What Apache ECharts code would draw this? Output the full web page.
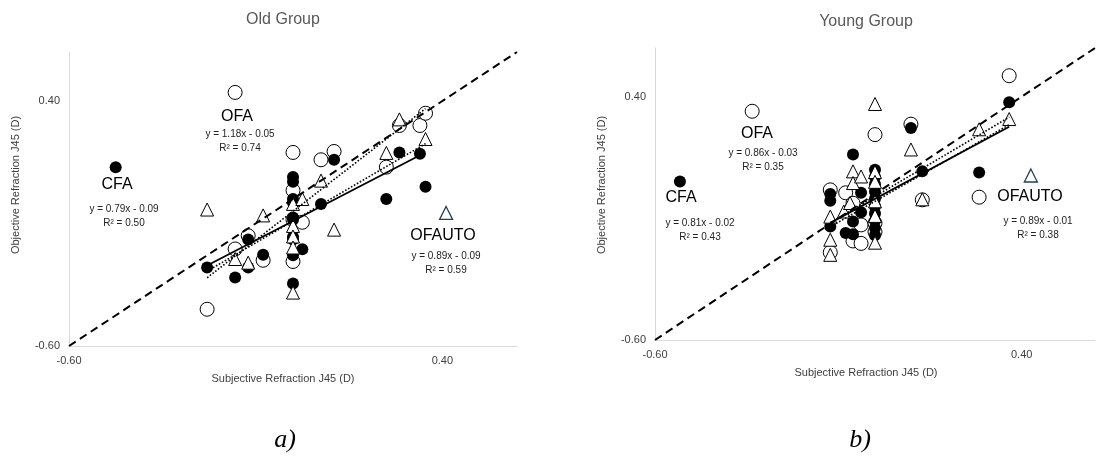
<!DOCTYPE html>
<html>
<head>
<meta charset="utf-8">
<script src="https://cdn.jsdelivr.net/npm/echarts@6/dist/echarts.min.js"></script>
<style>
  html, body { margin: 0; padding: 0; background: #fff; }
  #chart { width: 1098px; height: 461px; }
</style>
</head>
<body>
<div id="chart"></div>
<script>
// Axis range and the two labelled ticks (J45, dioptres)
const axisRange = [-0.6, 0.6];
const tickLabels = [-0.6, 0.4];

// Old group: [subjective J45, objective J45]
const oldCfa = [[-0.23,-0.28],[-0.155,-0.32],[-0.12,-0.165],[-0.12,-0.28],[-0.08,-0.228],
  [0,0.09],[0,0.07],[0,0.0],[0,-0.015],[0,-0.075],[0,-0.085],[0,-0.155],[0,-0.165],[0,-0.23],[0,-0.345],
  [0.025,-0.205],[0.075,-0.02],[0.11,0.16],[0.25,0.0],[0.285,0.19],[0.34,0.185],[0.355,0.05]];
const oldOfa = [[-0.23,-0.45],[-0.155,-0.204],[-0.12,-0.15],[-0.08,-0.25],
  [0,0.19],[0,0.035],[0,-0.085],[0,-0.255],[0.025,-0.095],[0.075,0.16],[0.11,0.194],
  [0.25,0.13],[0.285,0.30],[0.34,0.30],[0.355,0.35]];
const oldOfauto = [[-0.23,-0.043],[-0.155,-0.245],[-0.12,-0.26],[-0.08,-0.067],
  [0,-0.02],[0,-0.11],[0,-0.153],[0,-0.198],[0,-0.382],[0.025,0.0],[0.075,0.075],[0.11,-0.125],
  [0.25,0.188],[0.285,0.325],[0.355,0.245]];
// Key markers placed beside the method labels: CFA, OFA, OFAUTO
const oldKeys = [[-0.475,0.13],[-0.155,0.435],[0.41,-0.057]];
// Linear fits [slope, intercept] and the x span each fit covers
const oldFits = { cfa: [0.79,-0.09], ofa: [1.18,-0.05], ofauto: [0.89,-0.09] };
const oldR2 = { cfa: 0.50, ofa: 0.74, ofauto: 0.59 };
const oldSpans = { cfa: [-0.23,0.34], ofa: [-0.23,0.355], ofauto: [-0.23,0.355] };

// Young group
const youngCfa = [[-0.122,0.0],[-0.122,-0.028],[-0.122,-0.134],[-0.08,-0.16],[-0.06,-0.165],
  [-0.06,0.162],[-0.06,-0.113],[-0.038,0.005],[-0.038,-0.075],
  [0,0.10],[0,0.07],[0,0.04],[0,0.01],[0,-0.02],[0,-0.05],[0,-0.08],[0,-0.11],[0,-0.14],[0,-0.17],
  [0.098,0.271],[0.129,0.093],[0.284,0.088],[0.366,0.377]];
const youngOfa = [[-0.122,0.017],[-0.122,-0.24],[-0.08,0.005],[-0.06,-0.038],[-0.06,-0.193],
  [-0.038,-0.127],[-0.038,-0.203],[0,0.244],[0,-0.12],[0,-0.156],
  [0.098,0.287],[0.129,-0.024],[0.284,-0.013],[0.366,0.486]];
const youngOfauto = [[-0.122,-0.093],[-0.122,-0.188],[-0.122,-0.25],[-0.085,-0.072],[-0.068,-0.037],
  [-0.06,0.093],[-0.06,0.045],[-0.038,0.072],[0,0.37],[0,0.09],[0,0.05],[0,-0.03],[0,-0.09],[0,-0.2],
  [0.098,0.183],[0.129,-0.022],[0.284,0.266],[0.366,0.308]];
const youngKeys = [[-0.532,0.051],[-0.335,0.34],[0.425,0.076]];
const youngFits = { cfa: [0.81,-0.02], ofa: [0.86,-0.03], ofauto: [0.89,-0.01] };
const youngR2 = { cfa: 0.43, ofa: 0.35, ofauto: 0.38 };
const youngSpans = { cfa: [-0.122,0.366], ofa: [-0.122,0.366], ofauto: [-0.122,0.366] };

const FONT = '"Liberation Sans", Arial, sans-serif';
const INK = '#000';
const SLATE = '#23404f';

function fitLine(coef, span) {
  return span.map(x => [x, coef[0] * x + coef[1]]);
}
function eqText(coef) {
  const b = coef[1];
  return 'y = ' + coef[0].toFixed(2) + 'x ' + (b < 0 ? '- ' : '+ ') + Math.abs(b).toFixed(2);
}
function tickFormatter(v) {
  return tickLabels.some(t => Math.abs(t - v) < 1e-6) ? v.toFixed(2) : '';
}

function makeAxis(idx) {
  return {
    type: 'value', gridIndex: idx,
    min: axisRange[0], max: axisRange[1], interval: 0.2,
    splitLine: { show: false },
    axisTick: { show: false },
    axisLine: { show: true, onZero: false, lineStyle: { color: '#d9d9d9', width: 1 } },
    axisLabel: { formatter: tickFormatter, color: '#404040', fontSize: 11, fontFamily: FONT, margin: 9 }
  };
}

const filled = { color: INK, opacity: 1 };
const hollow = { color: '#fff', borderColor: INK, borderWidth: 1, opacity: 1 };

function groupSeries(idx, cfa, ofa, ofauto, keys, fits, spans) {
  const base = { xAxisIndex: idx, yAxisIndex: idx, silent: true, animation: false };
  return [
    Object.assign({ type: 'scatter', name: 'OFA', data: ofa, symbol: 'circle', symbolSize: 14,
      itemStyle: hollow, z: 2 }, base),
    Object.assign({ type: 'scatter', name: 'CFA', data: cfa, symbol: 'circle', symbolSize: 12,
      itemStyle: filled, z: 3 }, base),
    Object.assign({ type: 'scatter', name: 'OFAUTO', data: ofauto, symbol: 'triangle', symbolSize: 13,
      itemStyle: hollow, z: 4 }, base),
    Object.assign({ type: 'scatter', name: 'key', symbol: 'circle', z: 4,
      data: [
        { value: keys[0], symbolSize: 12, itemStyle: filled },
        { value: keys[1], symbolSize: 14, itemStyle: hollow },
        { value: keys[2], symbol: 'triangle', symbolSize: 13,
          itemStyle: { color: '#fff', borderColor: SLATE, borderWidth: 1.3, opacity: 1 } }
      ] }, base),
    Object.assign({ type: 'line', name: 'identity', data: [[axisRange[0], axisRange[0]], [axisRange[1], axisRange[1]]],
      symbol: 'none', lineStyle: { color: INK, width: 2, type: [8, 5] }, z: 5 }, base),
    Object.assign({ type: 'line', name: 'CFA fit', data: fitLine(fits.cfa, spans.cfa),
      symbol: 'none', lineStyle: { color: INK, width: 1.8, type: 'solid' }, z: 6 }, base),
    Object.assign({ type: 'line', name: 'OFA fit', data: fitLine(fits.ofa, spans.ofa),
      symbol: 'none', lineStyle: { color: INK, width: 1.6, type: [1.6, 1.8] }, z: 6 }, base),
    Object.assign({ type: 'line', name: 'OFAUTO fit', data: fitLine(fits.ofauto, spans.ofauto),
      symbol: 'none', lineStyle: { color: INK, width: 1.6, type: [1.6, 1.8] }, z: 6 }, base)
  ];
}

function txt(x, y, text, size, opts) {
  opts = opts || {};
  return {
    type: 'text', x: x, y: y, rotation: opts.rotation || 0, z: 10, silent: true,
    style: {
      text: text, fill: opts.color || '#000',
      font: (opts.italic ? 'italic ' : '') + size + 'px ' + (opts.family || FONT),
      align: 'center', verticalAlign: 'middle'
    }
  };
}

function groupLabels(pos, fits, r2) {
  const out = [];
  ['cfa', 'ofa', 'ofauto'].forEach(k => {
    const p = pos[k];
    out.push(txt(p.name[0], p.name[1], k.toUpperCase(), 16));
    out.push(txt(p.eq[0], p.eq[1], eqText(fits[k]), 10, { color: '#222' }));
    out.push(txt(p.eq[0], p.eq[1] + 14, 'R\u00b2 = ' + r2[k].toFixed(2), 10, { color: '#222' }));
  });
  return out;
}

const oldLabelPos = {
  cfa: { name: [117, 185], eq: [124, 209] },
  ofa: { name: [237, 117], eq: [240, 134] },
  ofauto: { name: [443, 236], eq: [446, 256] }
};
const youngLabelPos = {
  cfa: { name: [681, 198], eq: [700, 223] },
  ofa: { name: [757, 134], eq: [763, 153] },
  ofauto: { name: [1030, 197], eq: [1038, 221] }
};

const chart = echarts.init(document.getElementById('chart'), null, { renderer: 'canvas' });
chart.setOption({
  backgroundColor: '#fff',
  animation: false,
  grid: [
    { left: 69, top: 52, width: 448, height: 294 },
    { left: 655, top: 48, width: 446, height: 292 }
  ],
  xAxis: [makeAxis(0), makeAxis(1)],
  yAxis: [makeAxis(0), makeAxis(1)],
  series: []
    .concat(groupSeries(0, oldCfa, oldOfa, oldOfauto, oldKeys, oldFits, oldSpans))
    .concat(groupSeries(1, youngCfa, youngOfa, youngOfauto, youngKeys, youngFits, youngSpans)),
  graphic: []
    .concat([
      txt(283, 20, 'Old Group', 16, { color: '#595959' }),
      txt(866, 22, 'Young Group', 16, { color: '#595959' }),
      txt(283, 379, 'Subjective Refraction J45 (D)', 11, { color: '#404040' }),
      txt(866, 373, 'Subjective Refraction J45 (D)', 11, { color: '#404040' }),
      txt(16, 185, 'Objective Refraction J45 (D)', 11, { color: '#404040', rotation: Math.PI / 2 }),
      txt(602, 185, 'Objective Refraction J45 (D)', 11, { color: '#404040', rotation: Math.PI / 2 }),
      txt(285, 440, 'a)', 26, { italic: true, family: '"Liberation Serif", "Times New Roman", serif' }),
      txt(860, 440, 'b)', 26, { italic: true, family: '"Liberation Serif", "Times New Roman", serif' })
    ])
    .concat(groupLabels(oldLabelPos, oldFits, oldR2))
    .concat(groupLabels(youngLabelPos, youngFits, youngR2))
});
</script>
</body>
</html>
